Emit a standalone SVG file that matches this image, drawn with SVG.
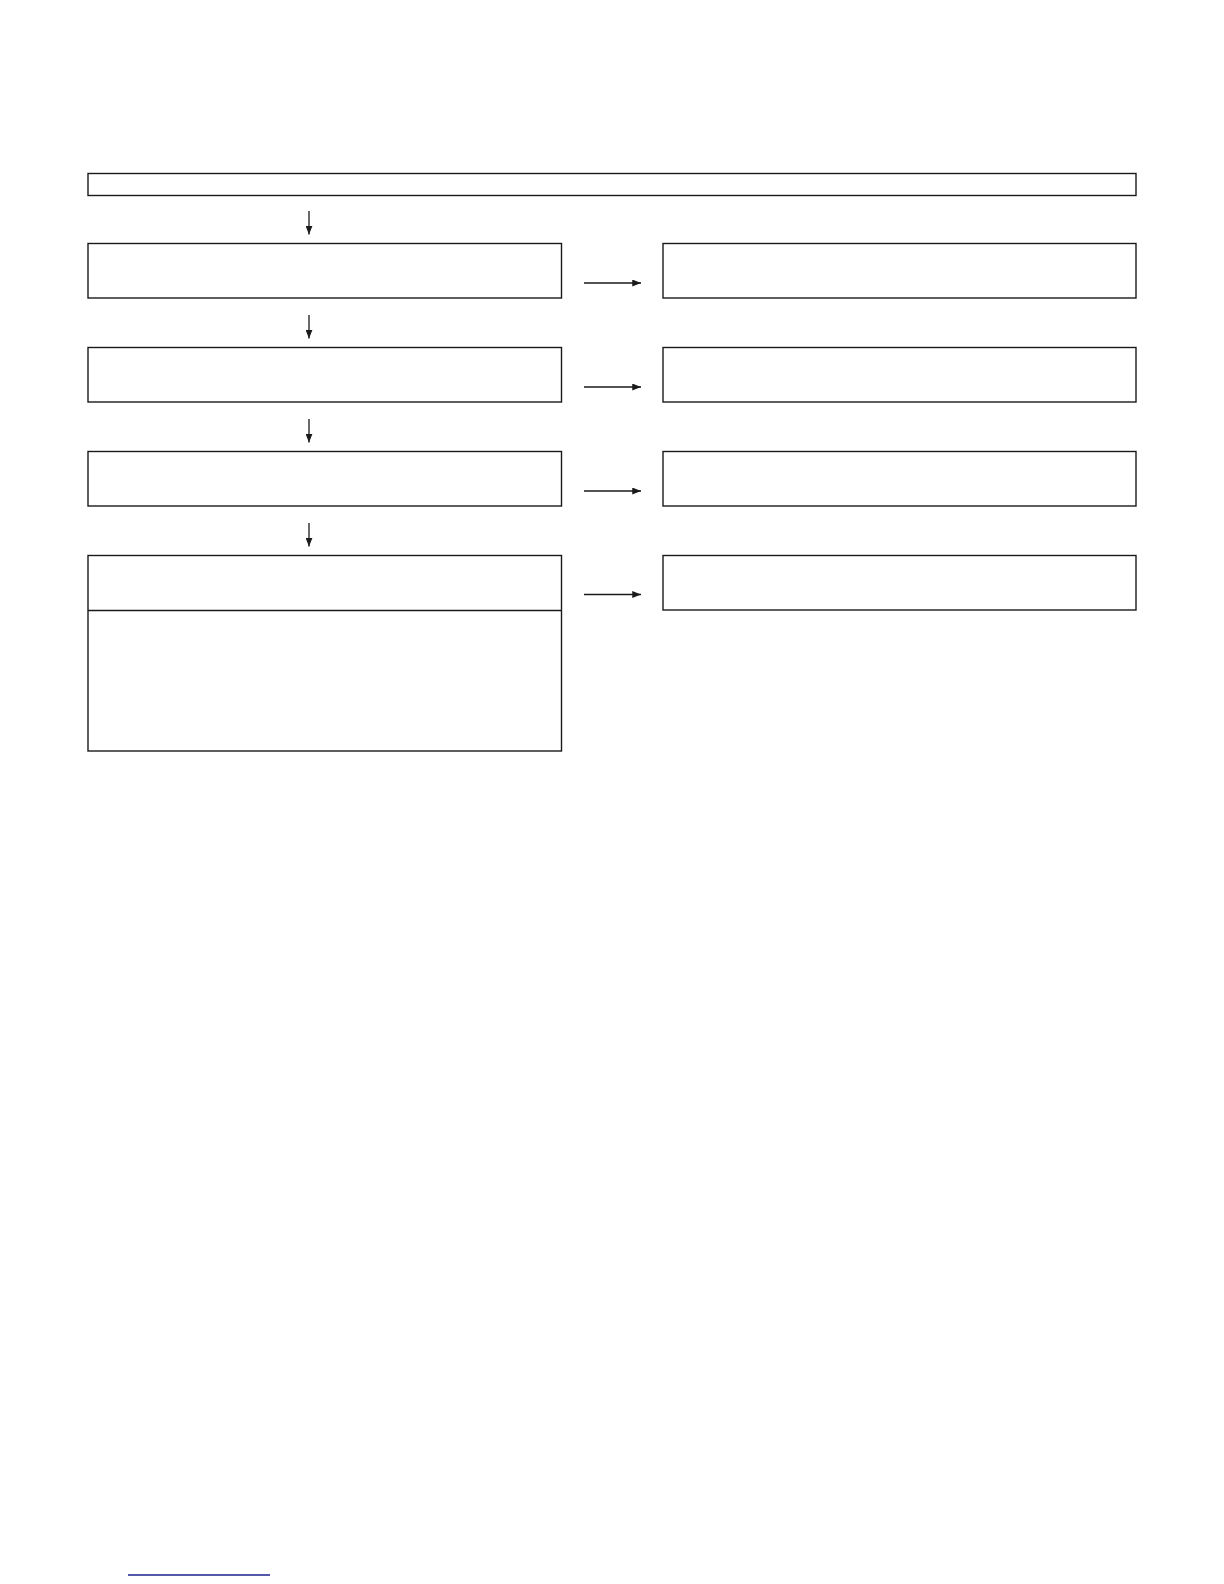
<svg xmlns="http://www.w3.org/2000/svg" width="1224" height="1584" viewBox="0 0 1224 1584">
<style>
.box{fill:#fff;stroke:#1a1a1a;stroke-width:1.4}
.div{stroke:#1a1a1a;stroke-width:1.4;fill:none}
.con{stroke:#1a1a1a;stroke-width:1.3;fill:none}
</style>
<defs>
<marker id="ah" viewBox="0 0 10 8" refX="10" refY="4" markerWidth="9" markerHeight="7" markerUnits="userSpaceOnUse" orient="auto">
<path d="M0,0 L10,4 L0,8 z" fill="#1a1a1a"/>
</marker>
</defs>
<rect width="1224" height="1584" fill="#fff"/>
<g id="top"><rect class="box" x="88" y="173.5" width="1048" height="22"/></g>
<g id="l1"><rect class="box" x="88" y="243.5" width="473.5" height="54.5"/></g>
<g id="l2"><rect class="box" x="88" y="347.5" width="473.5" height="54.5"/></g>
<g id="l3"><rect class="box" x="88" y="451.5" width="473.5" height="54.5"/></g>
<g id="l4"><rect class="box" x="88" y="555.5" width="473.5" height="195.5"/><line class="div" x1="88" y1="610.5" x2="561.5" y2="610.5"/></g>
<g id="r1"><rect class="box" x="663" y="243.5" width="473" height="54.5"/></g>
<g id="r2"><rect class="box" x="663" y="347.5" width="473" height="54.5"/></g>
<g id="r3"><rect class="box" x="663" y="451.5" width="473" height="54.5"/></g>
<g id="r4"><rect class="box" x="663" y="555.5" width="473" height="54.5"/></g>
<g id="connectors">
<line class="con" x1="309" y1="211" x2="309" y2="234.5" marker-end="url(#ah)"/>
<line class="con" x1="309" y1="315" x2="309" y2="338.5" marker-end="url(#ah)"/>
<line class="con" x1="309" y1="419" x2="309" y2="442.5" marker-end="url(#ah)"/>
<line class="con" x1="309" y1="523" x2="309" y2="546.5" marker-end="url(#ah)"/>
<line class="con" x1="584" y1="283" x2="641" y2="283" marker-end="url(#ah)"/>
<line class="con" x1="584" y1="387" x2="641" y2="387" marker-end="url(#ah)"/>
<line class="con" x1="584" y1="491" x2="641" y2="491" marker-end="url(#ah)"/>
<line class="con" x1="584" y1="594.5" x2="641" y2="594.5" marker-end="url(#ah)"/>
</g>
<line x1="128" y1="1575" x2="270" y2="1575" stroke="#1c2290" stroke-width="1.5"/>
</svg>
